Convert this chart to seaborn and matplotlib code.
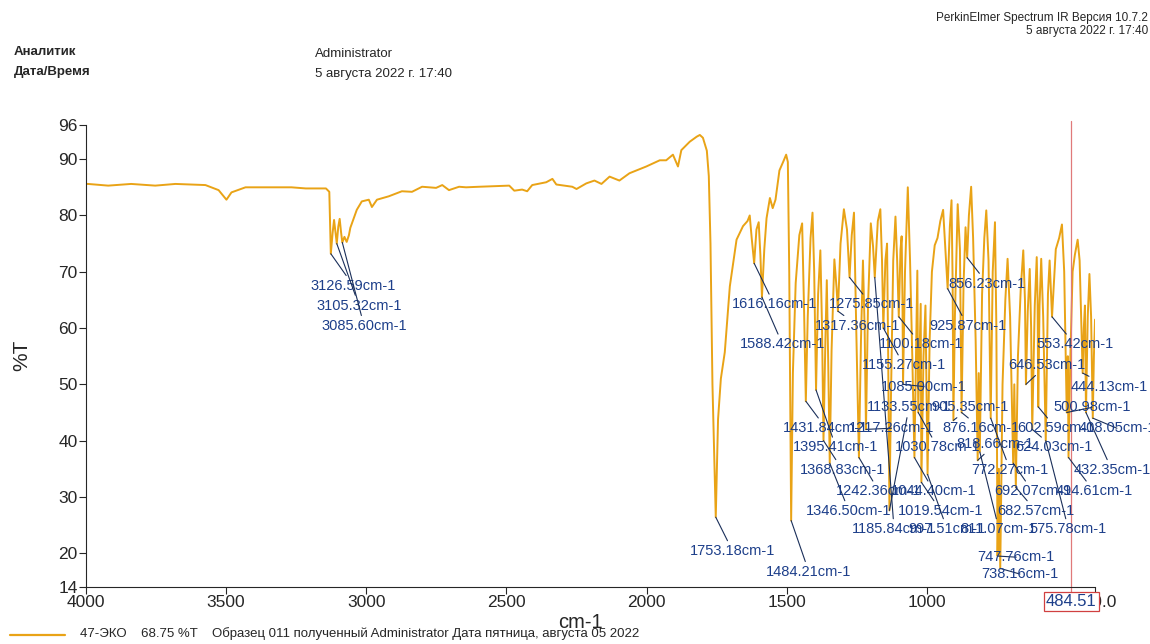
import numpy as np
import pandas as pd
import seaborn as sns
import matplotlib.pyplot as plt
from matplotlib.lines import Line2D

#######################################
# data
#######################################
# 4000 - 1820 cm-1 (baseline, C-H stretch, rise towards 1800)
wn_high = [4000, 3993, 3921, 3839, 3753, 3681, 3574, 3527, 3499, 3481, 3431, 3360,
           3267, 3216, 3144, 3132, 3126.59, 3120, 3115, 3110, 3105.32, 3100, 3095,
           3090, 3085.60, 3078, 3070, 3062, 3057, 3034, 3016, 2991, 2980, 2962, 2920,
           2873, 2837, 2801, 2751, 2729, 2705, 2669, 2644, 2597, 2490, 2472, 2444,
           2426, 2408, 2358, 2336, 2322, 2265, 2250, 2215, 2186, 2161, 2132, 2097,
           2061, 2001, 1953, 1930, 1906, 1888, 1876, 1846]
t_high = [85.6, 85.6, 85.3, 85.6, 85.3, 85.6, 85.4, 84.5, 82.8, 84.1, 85.0, 85.0,
          85.0, 84.8, 84.8, 84.2, 73.2, 77.0, 79.2, 77.0, 75.0, 78.0, 79.4,
          77.0, 75.2, 76.2, 75.3, 76.5, 77.8, 81.0, 82.5, 82.8, 81.5, 82.8, 83.4,
          84.3, 84.2, 85.1, 84.9, 85.4, 84.5, 85.1, 85.0, 85.1, 85.3, 84.4, 84.6,
          84.3, 85.4, 85.9, 86.5, 85.5, 85.1, 84.7, 85.7, 86.2, 85.6, 86.9, 86.2,
          87.5, 88.7, 89.8, 89.8, 90.8, 88.7, 91.6, 93.1]

# 1821 - 400 cm-1 (fingerprint region, minima and maxima)
wn_low = [1821, 1810, 1799, 1785, 1778, 1772, 1765, 1753.18, 1745, 1735, 1721, 1703,
          1679, 1656, 1640, 1632, 1625, 1616.16, 1608, 1600, 1594, 1588.42, 1580,
          1572, 1560, 1550, 1540, 1526, 1512, 1502, 1496, 1491, 1484.21, 1478, 1468,
          1455, 1445, 1438, 1431.84, 1425, 1415, 1408, 1402, 1395.41, 1388, 1380,
          1374, 1368.83, 1362, 1357, 1352, 1346.50, 1340, 1330, 1322, 1317.36, 1308,
          1296, 1285, 1275.85, 1268, 1260, 1252, 1242.36, 1235, 1228, 1222, 1217.26,
          1210, 1200, 1192, 1185.84, 1175, 1166, 1160, 1155.27, 1148, 1142, 1138,
          1133.55, 1128, 1120, 1112, 1106, 1100.18, 1094, 1090, 1087, 1085.00, 1078,
          1068, 1060, 1052, 1044.40, 1038, 1034, 1030.78, 1025, 1022, 1019.54, 1012,
          1005, 997.51, 990, 982, 972, 962, 952, 942, 934, 925.87, 918, 912, 908,
          905.35, 900, 890, 882, 876.16, 869, 862, 856.23, 850, 842, 835, 826,
          818.66, 815, 811.07, 803, 795, 788, 780, 772.27, 765, 757, 752, 747.76,
          743, 738.16, 730, 720, 712, 703, 692.07, 688, 682.57, 675, 665, 656, 650,
          646.53, 640, 633, 628, 624.03, 615, 608, 605, 602.59, 598, 592, 585,
          575.78, 568, 562, 553.42, 540, 528, 518, 510, 500.98, 497, 494.61, 488,
          480, 472, 462, 455, 444.13, 440, 436, 432.35, 426, 420, 414, 408.05, 404, 400]
t_low = [94.0, 94.3, 93.8, 91.5, 87.0, 75.0, 50.0, 26.4, 43.8, 51.0, 55.7, 67.4,
         75.7, 78.1, 79.0, 80.0, 76.0, 71.5, 77.5, 78.8, 73.0, 65.5, 74.0,
         79.5, 83.1, 81.3, 82.8, 88.0, 89.6, 90.8, 89.5, 70.0, 25.8, 52.0, 68.0,
         76.5, 78.6, 63.0, 47.0, 62.0, 76.0, 80.5, 70.0, 49.0, 66.0, 73.8,
         60.0, 40.0, 58.0, 68.5, 54.0, 36.0, 56.0, 72.2, 67.0, 63.0, 75.0,
         81.1, 77.5, 69.0, 76.5, 80.5, 60.0, 37.0, 58.0, 72.0, 60.0, 42.0,
         64.0, 78.6, 74.5, 69.0, 79.0, 81.1, 72.0, 60.0, 72.0, 75.0, 55.0,
         27.6, 48.0, 72.0, 79.8, 72.0, 62.0, 74.0, 76.3, 65.0, 50.0, 70.0,
         85.0, 72.0, 55.0, 37.0, 58.0, 70.2, 45.0, 58.0, 64.3, 32.6, 55.0,
         64.0, 34.0, 58.0, 70.0, 74.7, 76.0, 79.0, 81.0, 74.0, 67.0, 78.0, 82.7, 68.0,
         43.6, 62.0, 82.0, 74.0, 45.0, 68.0, 77.9, 72.5, 80.0, 85.1, 76.0, 58.0,
         36.5, 52.0, 38.0, 66.0, 76.0, 80.9, 72.0, 44.0, 70.0, 78.8, 60.0, 19.5,
         35.0, 17.3, 50.0, 65.0, 72.3, 62.0, 36.0, 50.0, 31.7, 55.0, 67.0, 73.8, 65.0,
         50.0, 63.0, 70.5, 60.0, 42.0, 64.0, 72.6, 65.0, 46.0, 64.0, 72.3, 62.0,
         40.0, 66.0, 72.0, 62.0, 74.0, 76.0, 78.4, 70.0, 45.0, 55.0, 37.0, 55.0,
         70.0, 73.0, 75.7, 72.0, 52.0, 60.0, 64.0, 45.0, 62.0, 69.6, 62.0, 44.0, 55.0, 61.5]

# picked peaks: label wavenumber, %T at the tip, text position (cm-1, %T)
peak_wn = [3126.59, 3105.32, 3085.60, 1753.18, 1616.16, 1588.42, 1484.21, 1431.84,
           1395.41, 1368.83, 1346.50, 1317.36, 1275.85, 1242.36, 1217.26, 1185.84,
           1155.27, 1133.55, 1100.18, 1085.00, 1044.40, 1030.78, 1019.54, 997.51,
           925.87, 905.35, 876.16, 856.23, 818.66, 811.07, 772.27, 747.76, 738.16,
           692.07, 682.57, 646.53, 624.03, 602.59, 575.78, 553.42, 500.98, 494.61,
           444.13, 432.35, 408.05]
peak_t = [73.2, 75.0, 75.2, 26.4, 71.5, 65.5, 25.8, 47.0,
          49.0, 40.0, 36.0, 63.0, 69.0, 37.0, 42.0, 69.0,
          60.0, 27.6, 62.0, 50.0, 37.0, 45.0, 32.6, 34.0,
          67.0, 43.6, 45.0, 72.5, 36.5, 38.0, 44.0, 19.5, 17.3,
          36.0, 31.7, 50.0, 42.0, 46.0, 40.0, 62.0, 45.0, 37.0,
          52.0, 45.0, 44.0]
label_wn = [3046, 3026, 3008, 1693, 1545, 1515, 1421, 1360,
            1324, 1301, 1278, 1246, 1199, 1171, 1126, 1117,
            1082, 1064, 1021, 1010, 975, 962, 950, 928,
            855, 845, 807, 784, 757, 743, 703, 681, 668,
            623, 611, 573, 548, 539, 495, 472, 411, 404,
            350, 340, 322]
label_t = [67.5, 64.0, 60.4, 20.4, 64.2, 57.1, 16.7, 42.2,
           38.8, 34.8, 27.5, 60.4, 64.2, 31.0, 42.2, 24.3,
           53.4, 45.9, 57.1, 49.6, 31.0, 38.8, 27.5, 24.3,
           60.4, 45.9, 42.2, 67.9, 39.4, 24.3, 34.8, 19.3, 16.3,
           31.0, 27.5, 53.4, 38.8, 42.2, 24.3, 57.1, 45.9, 31.0,
           49.6, 34.8, 42.2]

cursor_wn = 484.51

df = pd.DataFrame({'wn': wn_high + wn_low, 'T': t_high + t_low})

#######################################
# plot
#######################################
sns.set_style('ticks')
plt.rcParams['font.family'] = ['Liberation Sans', 'DejaVu Sans']
navy = '#1d3f8a'

fig = plt.figure(figsize=(11.5, 6.44), dpi=100)
ax = fig.add_axes([0.0748, 0.0885, 0.8774, 0.7168])

sns.lineplot(data=df, x='wn', y='T', sort=False, estimator=None,
             color='#e9a316', linewidth=1.4, ax=ax)

ax.set_xlim(4000, 400)
ax.set_ylim(14, 96)
ax.set_xticks([4000, 3500, 3000, 2500, 2000, 1500, 1000, 400])
ax.set_xticklabels(['4000', '3500', '3000', '2500', '2000', '1500', '1000', '400.0'])
ax.set_yticks([14, 20, 30, 40, 50, 60, 70, 80, 90, 96])
ax.tick_params(direction='out', length=5, width=0.8, labelsize=12.5, pad=1)
ax.set_xlabel('')
ax.set_ylabel('')
sns.despine(ax=ax)
for s in ['left', 'bottom']:
    ax.spines[s].set_linewidth(0.8)

# peak labels
for w, t, lw_, lt in zip(peak_wn, peak_t, label_wn, label_t):
    ax.annotate(f'{w:.2f}cm-1', xy=(w, t), xytext=(lw_, lt), ha='center', va='center',
                fontsize=10.5, color=navy, annotation_clip=False,
                arrowprops=dict(arrowstyle='-', color='#1a2f5a', lw=0.8,
                                shrinkA=0, shrinkB=0))

# cursor with its value box over the last tick label
ax.axvline(cursor_wn, ymin=-0.01, ymax=1.01, color='#e07a7a', lw=0.9, clip_on=False)
ax.text(cursor_wn, -0.031, f'{cursor_wn:.2f}', transform=ax.get_xaxis_transform(),
        ha='center', va='center', fontsize=12, color=navy, zorder=10,
        bbox=dict(boxstyle='square,pad=0.12', fc='white', ec='#d04040', lw=0.9))

# axis titles
fig.text(580 / 1150, 1 - 622 / 644, 'cm-1', ha='center', va='center', fontsize=14.5)
fig.text(22 / 1150, 1 - 355 / 644, '%T', ha='center', va='center', fontsize=15, rotation=90)

# header
fig.text(14 / 1150, 1 - 52 / 644, 'Аналитик', fontsize=9.5, weight='bold', va='center')
fig.text(14 / 1150, 1 - 72 / 644, 'Дата/Время', fontsize=9.5, weight='bold', va='center')
fig.text(315 / 1150, 1 - 54 / 644, 'Administrator', fontsize=9.5, va='center')
fig.text(315 / 1150, 1 - 74 / 644, '5 августа 2022 г. 17:40', fontsize=9.5, va='center')
fig.text(1148 / 1150, 1 - 18 / 644, 'PerkinElmer Spectrum IR Версия 10.7.2', fontsize=8.5,
         ha='right', va='center')
fig.text(1148 / 1150, 1 - 31 / 644, '5 августа 2022 г. 17:40', fontsize=8.5,
         ha='right', va='center')

# legend line at the bottom
fig.add_artist(Line2D([10 / 1150, 65 / 1150], [1 - 635 / 644, 1 - 635 / 644],
                      color='#e9a316', lw=1.6))
fig.text(80 / 1150, 1 - 634 / 644,
         '47-ЭКО    68.75 %T    Образец 011 полученный Administrator Дата пятница, августа 05 2022',
         fontsize=9.5, va='center')

plt.savefig('out.png', dpi=100)
